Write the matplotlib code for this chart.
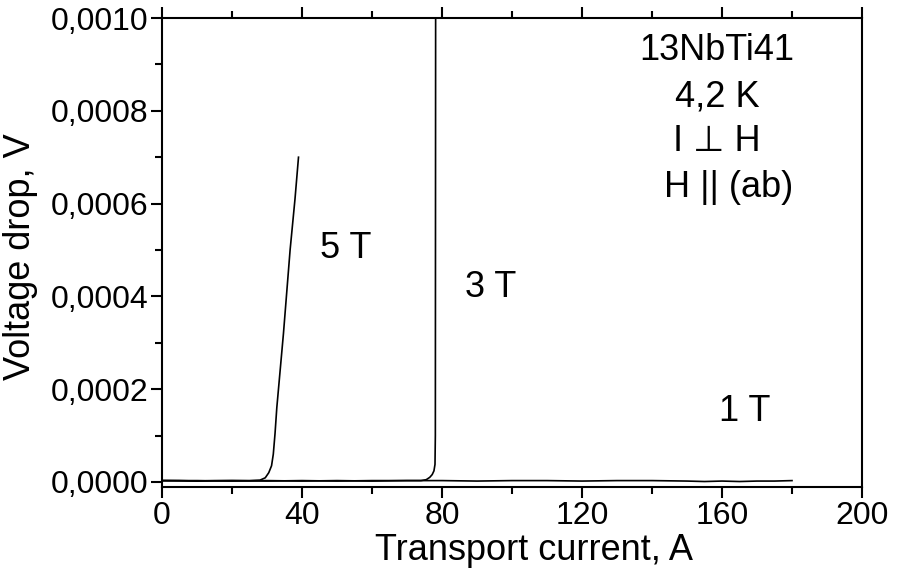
import matplotlib
matplotlib.use("Agg")
import matplotlib.pyplot as plt
from matplotlib.ticker import MultipleLocator, FuncFormatter

plt.rcParams['font.family'] = ['Liberation Sans', 'DejaVu Sans']

# 1 T: stays superconducting over the whole sweep
i_1t = [0, 10, 20, 30, 40, 50, 60, 70, 80, 90, 100, 110, 120, 130, 140, 150, 155, 160, 165, 170, 175, 180]
v_1t = [3e-6, 3e-6, 2e-6, 3e-6, 2e-6, 3e-6, 2e-6, 3e-6, 3e-6, 2e-6, 3e-6, 3e-6, 2e-6, 3e-6,
        3e-6, 2e-6, 1e-6, 2e-6, 1e-6, 2e-6, 2e-6, 3e-6]

# 3 T: sharp transition near 78 A
i_3t = [0, 10, 20, 30, 40, 50, 60, 70, 74, 75.5, 76.5, 77.2, 77.7, 78.0, 78.1, 78.2]
v_3t = [3e-6, 2e-6, 3e-6, 2e-6, 3e-6, 2e-6, 3e-6, 3e-6, 3e-6, 5e-6, 1.0e-5, 1.6e-5, 2.4e-5,
        3.8e-5, 1.0e-4, 1.2e-3]

# 5 T: gradual transition starting near 28 A
i_5t = [0, 5, 10, 15, 20, 25, 28, 29.5, 30.5, 31.3, 31.8, 32.3, 32.8, 34.7, 36.6, 38.0, 39.0]
v_5t = [3e-6, 3e-6, 2e-6, 3e-6, 3e-6, 3e-6, 4e-6, 9e-6, 2.0e-5, 3.5e-5, 6.0e-5, 1.05e-4,
        1.6e-4, 3.2e-4, 5.0e-4, 6.1e-4, 7.0e-4]

fig = plt.figure(figsize=(8.97, 5.79), dpi=100)
ax = fig.add_axes([162/897, 92/579, 700/897, 469/579])

for i, v in [(i_1t, v_1t), (i_3t, v_3t), (i_5t, v_5t)]:
    ax.plot(i, v, color='black', lw=1.2)

ax.set_xlim(0, 200)
ax.set_ylim(-1.08e-5, 0.0010)

ax.xaxis.set_major_locator(MultipleLocator(40))
ax.xaxis.set_minor_locator(MultipleLocator(20))
ax.yaxis.set_major_locator(MultipleLocator(0.0002))
ax.yaxis.set_minor_locator(MultipleLocator(0.0001))
ax.yaxis.set_major_formatter(FuncFormatter(lambda y, p: ("%.4f" % abs(y)).replace('.', ',')))

ax.tick_params(which='both', direction='out', width=1.5, top=True, right=False,
               labelsize=23, pad=2)
ax.tick_params(which='major', length=8)
ax.tick_params(which='minor', length=5)
for s in ax.spines.values():
    s.set_linewidth(1.5)

fig.text(534/897, 1 - 550/579, "Transport current, A", fontsize=26, ha='center', va='center')
fig.text(21/897, 1 - 257/579, "Voltage drop, V", fontsize=26, ha='center', va='center',
         rotation=90)

ax.text(158.6, 0.000931, "13NbTi41", fontsize=26, ha='center', va='center')
ax.text(158.6, 0.000830, "4,2 K", fontsize=26, ha='center', va='center')
ax.text(158.6, 0.000733, "I \u22a5 H", fontsize=26, ha='center', va='center')
ax.text(162.0, 0.000634, "H || (ab)", fontsize=26, ha='center', va='center')

ax.text(52.6, 0.000504, "5 T", fontsize=26, ha='center', va='center')
ax.text(94.0, 0.000420, "3 T", fontsize=26, ha='center', va='center')
ax.text(166.6, 0.000151, "1 T", fontsize=26, ha='center', va='center')

fig.savefig("out.png", dpi=100)
